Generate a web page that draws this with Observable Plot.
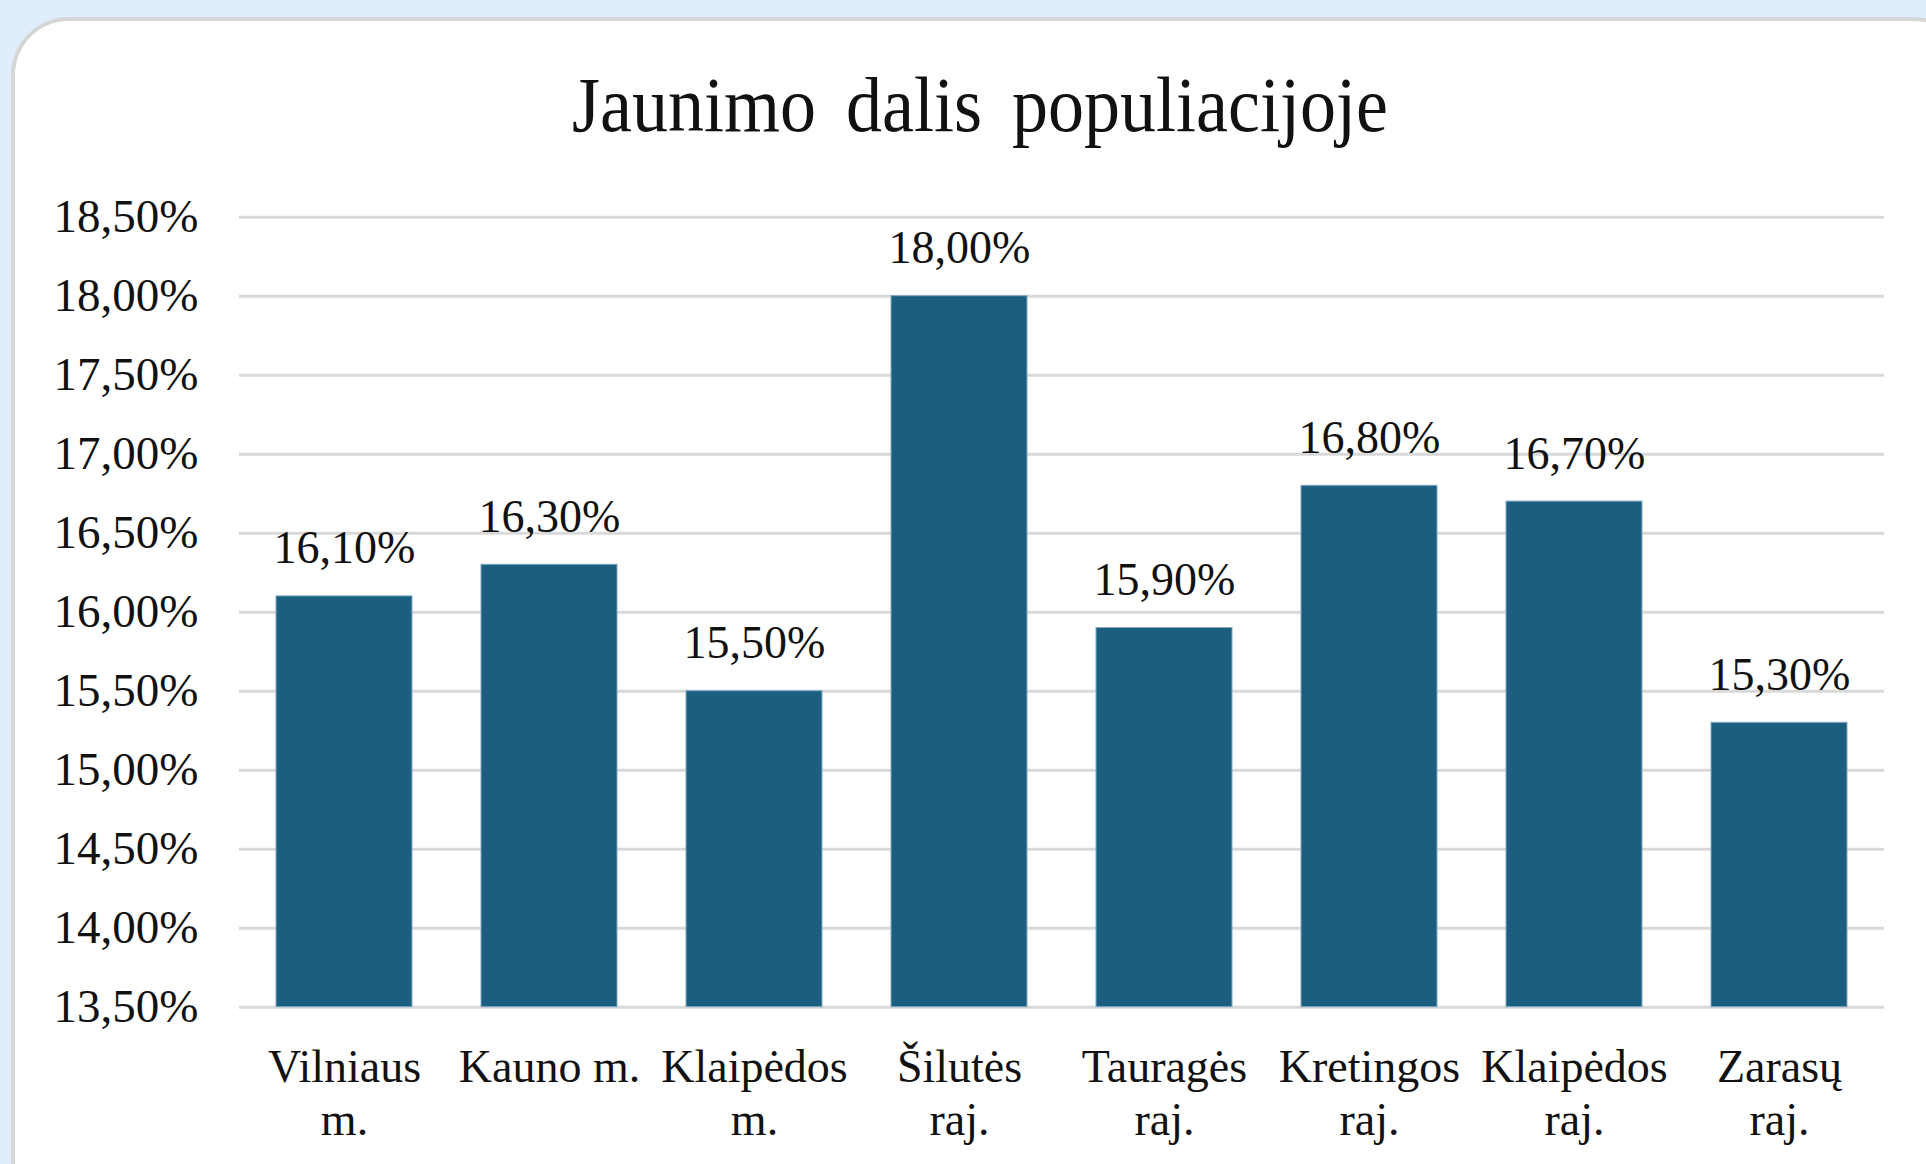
<!DOCTYPE html>
<html>
<head>
<meta charset="utf-8">
<script src="https://cdn.jsdelivr.net/npm/d3@7"></script>
<script src="https://cdn.jsdelivr.net/npm/@observablehq/plot@0.6"></script>
<style>
  html, body { margin: 0; padding: 0; width: 1926px; height: 1164px; overflow: hidden; background: #dfedfd; }
  #card { position: absolute; left: 11px; top: 17px; width: 1960px; height: 1200px; background: #fff;
          border-left: 4px solid #d6d6d6; border-top: 4px solid #d6d6d6; border-radius: 58px; box-sizing: border-box; }
  #title { position: absolute; left: 0; top: 71px; width: 1960px; text-align: center;
           font-family: "Liberation Serif", "Times New Roman", serif; font-size: 72px; line-height: 72px;
           word-spacing: 12px; color: #111; transform: scaleY(1.1); transform-origin: 50% 60px; }
  #chart { position: absolute; left: 0; top: 0; }
</style>
</head>
<body>
<div id="card"></div>
<div id="title">Jaunimo dalis populiacijoje</div>
<div id="chart"></div>
<script>
const categories = ["Vilniaus m.", "Kauno m.", "Klaipėdos m.", "Šilutės raj.", "Tauragės raj.", "Kretingos raj.", "Klaipėdos raj.", "Zarasų raj."];
const categoryLabels = ["Vilniaus\nm.", "Kauno m.", "Klaipėdos\nm.", "Šilutės\nraj.", "Tauragės\nraj.", "Kretingos\nraj.", "Klaipėdos\nraj.", "Zarasų\nraj."];
const values = [16.1, 16.3, 15.5, 18.0, 15.9, 16.8, 16.7, 15.3];
const yTicks = [13.5, 14, 14.5, 15, 15.5, 16, 16.5, 17, 17.5, 18, 18.5];

const data = categories.map((c, i) => ({category: c, value: values[i]}));
const labelOf = new Map(categories.map((c, i) => [c, categoryLabels[i]]));
const fmt = v => v.toFixed(2).replace(".", ",") + "%";
const font = "Liberation Serif, Times New Roman, serif";

const chart = Plot.plot({
  width: 1926,
  height: 1164,
  marginLeft: 239,
  marginRight: 42,
  marginTop: 216.7,
  marginBottom: 157.3,
  style: {background: "transparent", fontFamily: font, color: "#111"},
  x: {domain: categories, paddingInner: 0.335, paddingOuter: 0.1675, align: 0.5},
  y: {domain: [13.5, 18.5]},
  marks: [
    Plot.gridY(yTicks, {stroke: "#d9d9d9", strokeWidth: 3, strokeOpacity: 1}),
    Plot.barY(data, {x: "category", y1: 13.5, y2: "value", fill: "#1b5e80", stroke: "#7fa9c2", strokeWidth: 1, inset: 0}),
    Plot.text(data, {x: "category", y: "value", text: d => fmt(d.value), lineAnchor: "bottom", dy: -33,
                     fontSize: 46, fontFamily: font, fill: "#111"}),
    Plot.axisY(yTicks, {tickSize: 0, tickPadding: 41, tickFormat: fmt, fontSize: 47, fontFamily: font, fill: "#111", label: null}),
    Plot.axisX({tickSize: 0, tickPadding: 37, tickFormat: d => labelOf.get(d), fontSize: 46, fontFamily: font,
                fill: "#111", lineHeight: 1.15, label: null})
  ]
});
document.getElementById("chart").appendChild(chart);
</script>
</body>
</html>
